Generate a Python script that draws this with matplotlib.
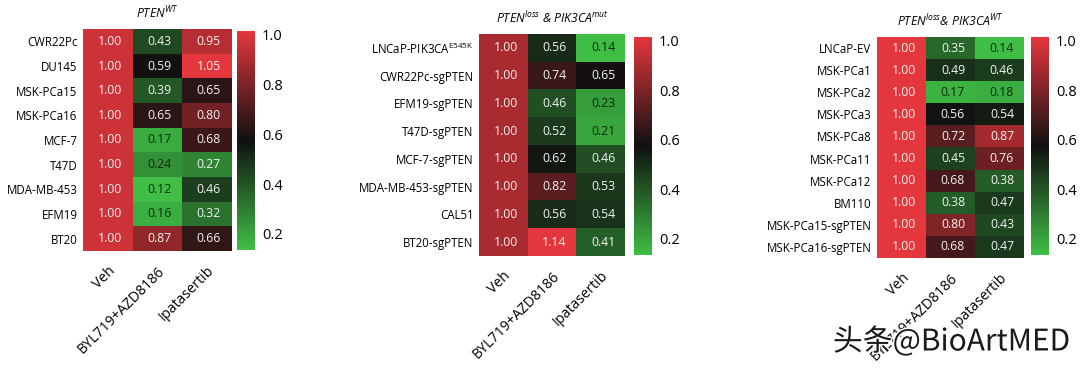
import matplotlib
matplotlib.use('Agg')
import matplotlib.pyplot as plt
import matplotlib.patheffects as pe
import matplotlib.transforms as mtrans
import numpy as np
from matplotlib.colors import LinearSegmentedColormap, Normalize
from matplotlib.cm import ScalarMappable

treatments = ['Veh', 'BYL719+AZD8186', 'Ipatasertib']

wt_lines = ['CWR22Pc', 'DU145', 'MSK-PCa15', 'MSK-PCa16', 'MCF-7', 'T47D',
            'MDA-MB-453', 'EFM19', 'BT20']
wt_veh = [1.00] * 9
wt_byl = [0.43, 0.59, 0.39, 0.65, 0.17, 0.24, 0.12, 0.16, 0.87]
wt_ipa = [0.95, 1.05, 0.65, 0.80, 0.68, 0.27, 0.46, 0.32, 0.66]

mut_lines = [r'LNCaP-PIK3CA$^{\mathregular{E545K}}$', 'CWR22Pc-sgPTEN', 'EFM19-sgPTEN',
             'T47D-sgPTEN', 'MCF-7-sgPTEN', 'MDA-MB-453-sgPTEN', 'CAL51', 'BT20-sgPTEN']
mut_veh = [1.00] * 8
mut_byl = [0.56, 0.74, 0.46, 0.52, 0.62, 0.82, 0.56, 1.14]
mut_ipa = [0.14, 0.65, 0.23, 0.21, 0.46, 0.53, 0.54, 0.41]

loss_lines = ['LNCaP-EV', 'MSK-PCa1', 'MSK-PCa2', 'MSK-PCa3', 'MSK-PCa8', 'MSK-PCa11',
              'MSK-PCa12', 'BM110', 'MSK-PCa15-sgPTEN', 'MSK-PCa16-sgPTEN']
loss_veh = [1.00] * 10
loss_byl = [0.35, 0.49, 0.17, 0.56, 0.72, 0.45, 0.68, 0.38, 0.80, 0.68]
loss_ipa = [0.14, 0.46, 0.18, 0.54, 0.87, 0.76, 0.38, 0.47, 0.43, 0.47]

cbar_ticks = [0.2, 0.4, 0.6, 0.8, 1.0]

cmap = LinearSegmentedColormap.from_list('gkr', ['#3fbd45', '#101010', '#e3363d'])

W, H = 1080, 368
fig = plt.figure(figsize=(W / 100, H / 100), dpi=100)
plt.rcParams['font.family'] = ['Open Sans', 'DejaVu Sans']


def px_axes(x0, y0, x1, y1):
    return fig.add_axes([x0 / W, 1 - y1 / H, (x1 - x0) / W, (y1 - y0) / H])


def draw_panel(lines, veh, byl, ipa, title, heat_box, cbar_box):
    data = np.column_stack([veh, byl, ipa])
    ax = px_axes(*heat_box)
    norm = Normalize(vmin=data.min(), vmax=data.max())
    ax.imshow(data, cmap=cmap, norm=norm, aspect='auto', interpolation='nearest')
    for r in range(data.shape[0]):
        for c in range(data.shape[1]):
            v = data[r, c]
            col = '#0f2a10' if v < 0.25 else '#f2f2f2'
            ax.text(c + 0.05, r, f'{v:.2f}', ha='center', va='center',
                    fontsize=8.8, color=col)
    ax.set_yticks(range(len(lines)))
    ax.set_yticklabels(lines, fontsize=8.3)
    ax.set_xticks(range(3))
    ax.set_xticklabels(treatments, fontsize=10.2, rotation=45, ha='right',
                       va='top', rotation_mode='anchor')
    shift = mtrans.ScaledTranslation(-0.05, 0, fig.dpi_scale_trans)
    for lab in ax.get_xticklabels():
        lab.set_transform(lab.get_transform() + shift)
    ax.tick_params(length=0, pad=4)
    ax.tick_params(axis='x', pad=9)
    for s in ax.spines.values():
        s.set_visible(False)
    ax.set_title(title, fontsize=8.8, style='italic', pad=8)

    cax = px_axes(*cbar_box)
    sm = ScalarMappable(norm=Normalize(vmin=0.135, vmax=1.015), cmap=cmap)
    cb = fig.colorbar(sm, cax=cax, ticks=cbar_ticks)
    cb.outline.set_visible(False)
    cb.ax.tick_params(length=0, labelsize=10.5, pad=5)
    cb.ax.set_yticklabels([f'{t:.1f}' for t in cbar_ticks])


draw_panel(wt_lines, wt_veh, wt_byl, wt_ipa, r'PTEN$^{\mathregular{WT}}$',
           (83, 29, 231, 251), (237, 31, 255, 250))
draw_panel(mut_lines, mut_veh, mut_byl, mut_ipa,
           r'PTEN$^{\mathregular{loss}}$ & PIK3CA$^{\mathregular{mut}}$',
           (479, 34, 625, 256), (634, 37, 652, 255))
draw_panel(loss_lines, loss_veh, loss_byl, loss_ipa,
           r'PTEN$^{\mathregular{loss}}$& PIK3CA$^{\mathregular{WT}}$',
           (877, 37, 1024, 258), (1031, 37, 1049, 255))

fig.text(1070 / W, 1 - 342 / H, '头条@BioArtMED', ha='right', va='center',
         fontsize=21.5, color='#1a1a1a', family=['Noto Sans CJK SC', 'DejaVu Sans'],
         path_effects=[pe.withStroke(linewidth=2, foreground='white')])

fig.savefig('out.png', dpi=100)
